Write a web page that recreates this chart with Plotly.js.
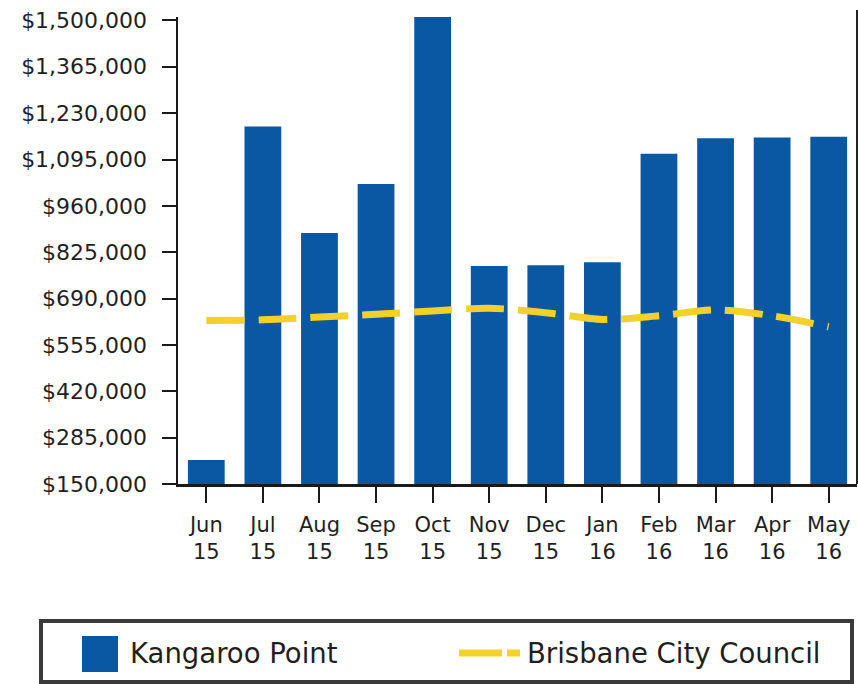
<!DOCTYPE html>
<html>
<head>
<meta charset="utf-8">
<script src="https://cdn.plot.ly/plotly-3.0.1.min.js"></script>
<style>
  html, body { margin: 0; padding: 0; background: #fff; }
  #chart { width: 858px; height: 684px; }
</style>
</head>
<body>
<div id="chart"></div>
<script>
// ---- data ----
const months = ["Jun<br>15", "Jul<br>15", "Aug<br>15", "Sep<br>15", "Oct<br>15", "Nov<br>15",
                "Dec<br>15", "Jan<br>16", "Feb<br>16", "Mar<br>16", "Apr<br>16", "May<br>16"];
const kangarooPoint = [220000, 1191000, 881000, 1024000, 1510000, 785000,
                       787000, 796000, 1112000, 1157000, 1159000, 1161000];
const brisbaneCityCouncil = [626000, 628000, 636000, 644000, 654000, 662000,
                             649000, 629000, 640000, 657000, 640000, 608000];
const yTickVals = [150000, 285000, 420000, 555000, 690000, 825000, 960000, 1095000, 1230000, 1365000, 1500000];
const yTickText = ["$150,000", "$285,000", "$420,000", "$555,000", "$690,000", "$825,000",
                   "$960,000", "$1,095,000", "$1,230,000", "$1,365,000", "$1,500,000"];
const seriesNames = ["Kangaroo Point", "Brisbane City Council"];

// ---- layout geometry (pixels) ----
const W = 858, H = 684;
const plotL = 178, plotR = 857, plotT = 17, plotB = 484;
const px = x => (x - plotL) / (plotR - plotL);
const py = y => (plotB - y) / (plotB - plotT);

const FONT = "DejaVu Sans, Verdana, sans-serif";
const BLUE = "#0a57a3";
const YELLOW = "#f3d12a";

const traces = [
  {
    type: "bar",
    x: months,
    y: kangarooPoint,
    name: seriesNames[0],
    marker: { color: BLUE, line: { width: 0 } },
    width: 0.65,
    showlegend: false,
    hoverinfo: "skip"
  },
  {
    type: "scatter",
    mode: "lines",
    x: months,
    y: brisbaneCityCouncil,
    name: seriesNames[1],
    line: { color: YELLOW, width: 7, dash: "38px,14px", shape: "spline", smoothing: 0.8 },
    showlegend: false,
    hoverinfo: "skip"
  }
];

const layout = {
  width: W,
  height: H,
  margin: { l: plotL, r: W - plotR, t: plotT, b: H - plotB, pad: 0 },
  paper_bgcolor: "#ffffff",
  plot_bgcolor: "#ffffff",
  showlegend: false,
  font: { family: FONT, color: "#1f1f1f" },
  xaxis: {
    type: "category",
    range: [-0.5, 11.5],
    showgrid: false,
    zeroline: false,
    showline: true,
    linecolor: "#1a1a1a",
    linewidth: 2.5,
    ticks: "outside",
    ticklen: 16,
    tickwidth: 2,
    tickcolor: "#1a1a1a",
    tickfont: { family: FONT, size: 21, color: "#1f1f1f" },
    ticklabelstandoff: 4,
    fixedrange: true
  },
  yaxis: {
    range: [150000, 1510000],
    tickmode: "array",
    tickvals: yTickVals,
    ticktext: yTickText,
    showgrid: false,
    zeroline: false,
    showline: true,
    linecolor: "#1a1a1a",
    linewidth: 2.5,
    ticks: "outside",
    ticklen: 14,
    tickwidth: 2,
    tickcolor: "#1a1a1a",
    tickfont: { family: FONT, size: 22, color: "#1f1f1f" },
    ticklabelstandoff: 10,
    fixedrange: true
  },
  shapes: [
    // right frame edge
    { type: "line", xref: "paper", yref: "paper", x0: 1, x1: 1, y0: 0, y1: py(10),
      line: { color: "#222", width: 2 } },
    // legend box
    { type: "rect", xref: "paper", yref: "paper",
      x0: px(41), x1: px(852), y0: py(682), y1: py(621),
      line: { color: "#3a3a3a", width: 4 }, fillcolor: "rgba(0,0,0,0)" },
    // legend: bar swatch
    { type: "rect", xref: "paper", yref: "paper",
      x0: px(82), x1: px(118), y0: py(672), y1: py(636),
      line: { width: 0 }, fillcolor: BLUE },
    // legend: dashed line swatch
    { type: "line", xref: "paper", yref: "paper",
      x0: px(459), x1: px(502), y0: py(653), y1: py(653),
      line: { color: YELLOW, width: 7 } },
    { type: "line", xref: "paper", yref: "paper",
      x0: px(507), x1: px(520), y0: py(653), y1: py(653),
      line: { color: YELLOW, width: 7 } }
  ],
  annotations: [
    { xref: "paper", yref: "paper", x: px(128), y: py(653), xanchor: "left", yanchor: "middle",
      text: seriesNames[0], showarrow: false, font: { family: FONT, size: 27.5, color: "#1f1f1f" } },
    { xref: "paper", yref: "paper", x: px(525), y: py(653), xanchor: "left", yanchor: "middle",
      text: seriesNames[1], showarrow: false, font: { family: FONT, size: 27.5, color: "#1f1f1f" } }
  ]
};

Plotly.newPlot("chart", traces, layout, { displayModeBar: false, staticPlot: true });
</script>
</body>
</html>
